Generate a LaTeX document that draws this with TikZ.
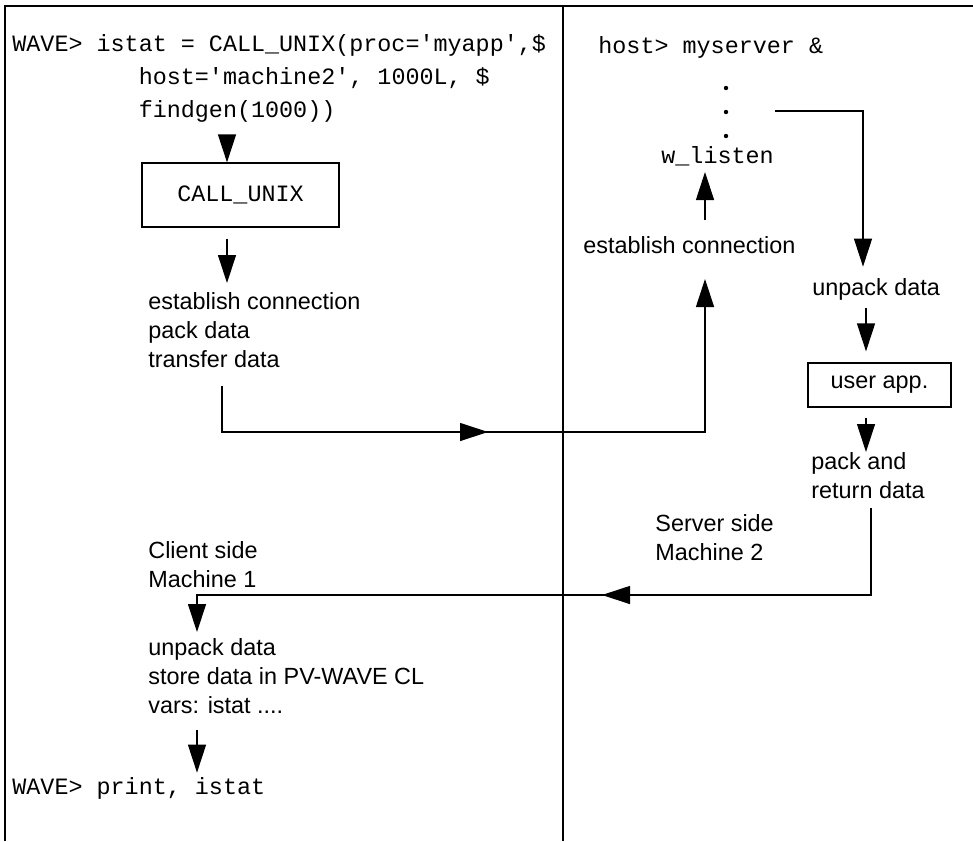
\documentclass[tikz,border=0pt]{standalone}
\usepackage{fontspec}
\setsansfont{Liberation Sans}
\setmonofont{Liberation Mono}
\usetikzlibrary{arrows.meta}
\usetikzlibrary{decorations.markings}
\tikzset{
   rule/.style={draw=black, line width=0.7pt},
   flow/.style={draw=black, line width=0.6pt, -{Triangle[length=14pt,width=9pt]}},
   midarrow/.style={postaction={decorate},
      decoration={markings,mark=at position #1 with{\arrow{Triangle[length=14pt,width=9pt]}}}},
   code/.style={font=\fontsize{11.7}{16.5}\selectfont\ttfamily, inner sep=0pt,
      anchor=north west, align=left},
   note/.style={font=\fontsize{11.7}{14.5}\selectfont\sffamily, inner sep=0pt,
      anchor=north west, align=left},
   procbox/.style={draw=black, line width=0.6pt, inner sep=0pt},
    }
\begin{document}
\begin{tikzpicture}[x=0.5pt,y=-0.5pt]
        \useasboundingbox (0,0) rectangle (973,841);
        % frame
        \draw[rule] (973,6) -- (5,6) -- (5,841);
        \draw[rule] (563,6) -- (563,841);

        % client side (machine 1)
        \node[code] (cmd) at (12,34) {WAVE> istat = CALL\_UNIX(proc='myapp',\$\\
            \phantom{WAVE> ist}host='machine2', 1000L, \$\\
            \phantom{WAVE> ist}findgen(1000))};
        \node[procbox, font=\fontsize{11.7}{14}\selectfont\ttfamily,
            minimum width=98.5pt, minimum height=32pt] (callbox) at (240.5,195)
            {CALL\_UNIX\hspace{7pt}};
        \node[note] (pack) at (148,292) {establish connection\\pack data\\transfer data};
        \node[note] (client) at (148,541) {Client side\\Machine 1};
        \node[note] (store) at (148,638) {unpack data\\store data in PV-WAVE CL\\vars: istat ....};
        \node[code, anchor=base west] (print) at (12,794) {WAVE> print, istat};

        % server side (machine 2)
        \node[code, anchor=base west] (host) at (598,53) {host> myserver \&};
        \foreach \y in {88,112,136}
            \fill (726,\y) circle[radius=1.1pt];
        \node[code, anchor=base west] (listen) at (661,163) {w\_listen};
        \node[note, anchor=base west] (sconn) at (583,253) {establish connection};
        \node[note, anchor=base west] (sunpack) at (812,295) {unpack data};
        \node[procbox, font=\fontsize{11.7}{14}\selectfont\sffamily,
            minimum width=71.5pt, minimum height=22pt] (app) at (879.5,385)
            {user app.\hspace{8pt}};
        \node[note] (packret) at (811,452) {pack and\\return data};
        \node[note] (server) at (655,514) {Server side\\Machine 2};

        % connectors
        \coordinate (lcol) at (227,0);
        \coordinate (lcolb) at (197,0);
        \coordinate (ucol) at (705,0);
        \coordinate (rcol) at (863,0);
        \coordinate (acol) at (866,0);
        \coordinate (xferout) at (222,386);
        \coordinate (bus1) at (0,432);
        \coordinate (dotsout) at (775,111);
        \coordinate (retout) at (871,508);
        \coordinate (bus2) at (0,595);

        \draw[flow, shorten <=8pt] (cmd.south -| lcol) -- (callbox.north -| lcol);
        \draw[flow, shorten <=5.5pt, shorten >=4.5pt] (callbox.south -| lcol) -- (pack.north -| lcol);
        \draw[flow, midarrow=156pt, shorten >=13pt] (xferout) -- (xferout |- bus1)
            -- (ucol |- bus1) -- (sconn.base -| ucol);
        \draw[flow, shorten <=16.5pt, shorten >=4.5pt] (sconn.base -| ucol) -- (listen.base -| ucol);
        \draw[flow, shorten >=5.5pt] (dotsout) -| (sunpack.north -| rcol);
        \draw[flow, shorten <=4pt, shorten >=5.5pt] (sunpack.south -| acol) -- (app.north -| acol);
        \draw[flow, shorten <=5pt] (app.south -| acol) -- (packret.north -| acol);
        \draw[flow, midarrow=178pt, shorten >=3pt] (retout) -- (retout |- bus2)
            -- (lcolb |- bus2) -- (store.north -| lcolb);
        \draw[flow, shorten <=8pt, shorten >=2pt] (store.south -| lcolb) -- (print.north -| lcolb);
\end{tikzpicture}
\end{document}
